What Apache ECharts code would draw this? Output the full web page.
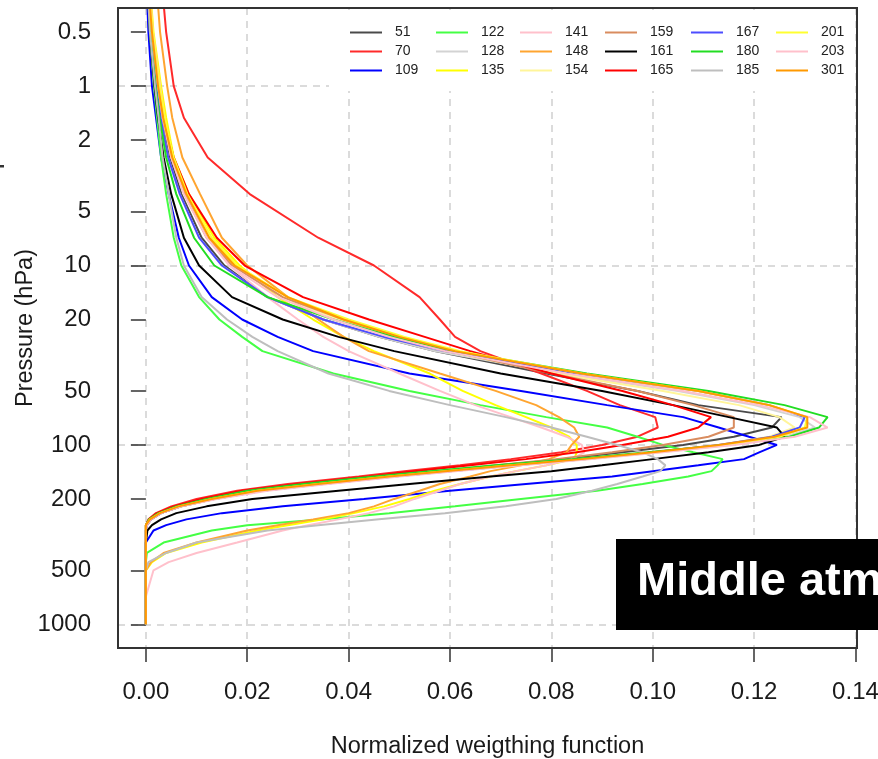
<!DOCTYPE html>
<html>
<head>
<meta charset="utf-8">
<script src="https://cdn.jsdelivr.net/npm/echarts@6/dist/echarts.min.js"></script>
<style>
html,body{margin:0;padding:0;background:#fff;}
#chart{width:878px;height:759px;}
</style>
</head>
<body>
<div id="chart"></div>
<script>
// Pressure levels (hPa) shared by all channels
var pressure = [0.3, 0.5, 1, 1.5, 2.5, 4, 7, 10, 15, 20, 25, 30, 40, 50, 60, 70, 80, 90, 100, 110, 120, 130, 140, 150, 165, 180, 200, 220, 240, 260, 280, 300, 350, 400, 450, 500, 700, 1000];

// Normalized weighting function per channel (values at the pressure levels above)
var w51  = [0.0006, 0.0012, 0.0023, 0.0032, 0.0047, 0.007, 0.011, 0.0155, 0.024, 0.035, 0.046, 0.057, 0.079, 0.097, 0.109, 0.1254, 0.1235, 0.116, 0.106, 0.094, 0.082, 0.070, 0.058, 0.048, 0.034, 0.023, 0.0135, 0.007, 0.003, 0.001, 0.0002, 0, 0, 0, 0, 0, 0, 0];
var w70  = [0.0033, 0.004, 0.0055, 0.0075, 0.0122, 0.0205, 0.034, 0.045, 0.054, 0.058, 0.061, 0.066, 0.078, 0.087, 0.0935, 0.1005, 0.101, 0.097, 0.090, 0.082, 0.072, 0.062, 0.051, 0.042, 0.028, 0.018, 0.010, 0.005, 0.002, 0.0005, 0, 0, 0, 0, 0, 0, 0, 0];
var w109 = [0.0002, 0.0005, 0.0012, 0.002, 0.003, 0.0045, 0.0065, 0.0085, 0.013, 0.019, 0.026, 0.033, 0.052, 0.074, 0.091, 0.106, 0.113, 0.119, 0.1245, 0.121, 0.118, 0.109, 0.100, 0.092, 0.075, 0.060, 0.043, 0.027, 0.015, 0.008, 0.004, 0.0015, 0, 0, 0, 0, 0, 0];
var w122 = [0.0004, 0.0008, 0.0016, 0.0022, 0.003, 0.004, 0.0055, 0.007, 0.0105, 0.0145, 0.019, 0.023, 0.037, 0.052, 0.066, 0.079, 0.091, 0.097, 0.102, 0.108, 0.1138, 0.1128, 0.1116, 0.107, 0.098, 0.089, 0.074, 0.061, 0.048, 0.035, 0.020, 0.013, 0.0035, 0.0002, 0, 0, 0, 0];
var w128 = [0.0005, 0.001, 0.002, 0.0029, 0.0044, 0.0067, 0.0105, 0.015, 0.024, 0.035, 0.046, 0.057, 0.082, 0.105, 0.120, 0.129, 0.132, 0.126, 0.115, 0.101, 0.087, 0.073, 0.060, 0.049, 0.035, 0.023, 0.0135, 0.007, 0.003, 0.001, 0.0002, 0, 0, 0, 0, 0, 0, 0];
var w135 = [0.0009, 0.0015, 0.003, 0.004, 0.0055, 0.0085, 0.0135, 0.0185, 0.026, 0.033, 0.039, 0.045, 0.056, 0.0625, 0.069, 0.075, 0.080, 0.0835, 0.085, 0.085, 0.0845, 0.079, 0.073, 0.068, 0.062, 0.057, 0.052, 0.047, 0.041, 0.035, 0.028, 0.022, 0.011, 0.004, 0.0012, 0, 0, 0];
var w141 = [0.0008, 0.0014, 0.0028, 0.0037, 0.005, 0.0077, 0.012, 0.0165, 0.024, 0.030, 0.035, 0.040, 0.050, 0.058, 0.065, 0.072, 0.078, 0.083, 0.086, 0.0865, 0.084, 0.079, 0.073, 0.068, 0.062, 0.058, 0.053, 0.049, 0.044, 0.038, 0.032, 0.027, 0.018, 0.010, 0.0045, 0.0015, 0, 0];
var w148 = [0.0022, 0.0028, 0.0042, 0.0052, 0.0072, 0.0107, 0.015, 0.020, 0.028, 0.034, 0.039, 0.044, 0.058, 0.069, 0.077, 0.0815, 0.0845, 0.0855, 0.084, 0.083, 0.0795, 0.074, 0.068, 0.064, 0.058, 0.054, 0.049, 0.045, 0.040, 0.033, 0.026, 0.020, 0.010, 0.0035, 0.001, 0, 0, 0];
var w154 = [0.0007, 0.0013, 0.0026, 0.0036, 0.0053, 0.008, 0.0125, 0.0175, 0.027, 0.038, 0.049, 0.059, 0.081, 0.102, 0.117, 0.125, 0.128, 0.123, 0.113, 0.100, 0.087, 0.073, 0.060, 0.049, 0.035, 0.023, 0.0135, 0.007, 0.003, 0.001, 0.0002, 0, 0, 0, 0, 0, 0, 0];
var w159 = [0.0006, 0.0012, 0.0024, 0.0034, 0.005, 0.0076, 0.012, 0.017, 0.027, 0.039, 0.050, 0.060, 0.080, 0.097, 0.108, 0.116, 0.116, 0.111, 0.102, 0.092, 0.081, 0.069, 0.058, 0.048, 0.034, 0.023, 0.0135, 0.007, 0.003, 0.001, 0.0002, 0, 0, 0, 0, 0, 0, 0];
var w161 = [0.0004, 0.0008, 0.0017, 0.0024, 0.0035, 0.005, 0.0075, 0.0105, 0.017, 0.027, 0.038, 0.049, 0.070, 0.090, 0.104, 0.115, 0.1245, 0.126, 0.121, 0.111, 0.100, 0.090, 0.080, 0.068, 0.052, 0.038, 0.021, 0.012, 0.006, 0.003, 0.0012, 0.0003, 0, 0, 0, 0, 0, 0];
var w165 = [0.0006, 0.0012, 0.0025, 0.0035, 0.0055, 0.0085, 0.014, 0.0195, 0.031, 0.044, 0.055, 0.064, 0.080, 0.094, 0.104, 0.1115, 0.109, 0.103, 0.094, 0.085, 0.075, 0.064, 0.053, 0.044, 0.030, 0.019, 0.011, 0.0055, 0.0022, 0.0006, 0, 0, 0, 0, 0, 0, 0, 0];
var w167 = [0.0005, 0.001, 0.002, 0.0029, 0.0044, 0.0067, 0.0105, 0.015, 0.024, 0.035, 0.047, 0.059, 0.085, 0.109, 0.123, 0.130, 0.129, 0.1235, 0.113, 0.100, 0.087, 0.073, 0.060, 0.049, 0.035, 0.023, 0.013, 0.0068, 0.003, 0.001, 0.0002, 0, 0, 0, 0, 0, 0, 0];
var w180 = [0.0004, 0.0009, 0.0019, 0.0027, 0.004, 0.006, 0.0095, 0.0135, 0.024, 0.037, 0.049, 0.061, 0.087, 0.111, 0.126, 0.1345, 0.1328, 0.127, 0.114, 0.099, 0.084, 0.069, 0.056, 0.045, 0.031, 0.020, 0.012, 0.006, 0.0025, 0.0006, 0, 0, 0, 0, 0, 0, 0, 0];
var w185 = [0.0004, 0.0008, 0.0018, 0.0025, 0.0033, 0.0045, 0.006, 0.0075, 0.011, 0.016, 0.021, 0.026, 0.036, 0.048, 0.060, 0.071, 0.080, 0.087, 0.093, 0.098, 0.101, 0.1025, 0.1015, 0.098, 0.093, 0.088, 0.081, 0.071, 0.059, 0.046, 0.034, 0.024, 0.010, 0.004, 0.0005, 0, 0, 0];
var w201 = [0.0007, 0.0014, 0.0027, 0.0037, 0.0055, 0.0082, 0.013, 0.018, 0.028, 0.040, 0.051, 0.062, 0.086, 0.109, 0.123, 0.1305, 0.130, 0.125, 0.115, 0.101, 0.087, 0.072, 0.059, 0.048, 0.034, 0.022, 0.013, 0.0065, 0.0028, 0.0008, 0, 0, 0, 0, 0, 0, 0, 0];
var w203 = [0.0006, 0.0012, 0.0024, 0.0033, 0.005, 0.0075, 0.012, 0.0165, 0.026, 0.037, 0.048, 0.059, 0.083, 0.106, 0.121, 0.131, 0.1345, 0.128, 0.116, 0.102, 0.088, 0.074, 0.061, 0.050, 0.036, 0.024, 0.014, 0.007, 0.003, 0.001, 0.0002, 0, 0, 0, 0, 0, 0, 0];
var w301 = [0.0006, 0.0012, 0.0024, 0.0034, 0.0052, 0.008, 0.0125, 0.0175, 0.028, 0.039, 0.050, 0.061, 0.086, 0.109, 0.123, 0.1305, 0.1305, 0.124, 0.113, 0.100, 0.086, 0.072, 0.059, 0.048, 0.034, 0.022, 0.013, 0.0065, 0.0028, 0.0008, 0, 0, 0, 0, 0, 0, 0, 0];

var channels = ['51', '70', '109', '122', '128', '135', '141', '148', '154', '159', '161', '165', '167', '180', '185', '201', '203', '301'];
var channelValues = [w51, w70, w109, w122, w128, w135, w141, w148, w154, w159, w161, w165, w167, w180, w185, w201, w203, w301];
var channelColors = ['#4a4a4a', '#ff2a2a', '#0000ff', '#44ff44', '#d3d3d3', '#ffff00', '#ffc0cb', '#ffa530', '#fff59a', '#d98c5f', '#000000', '#ff0000', '#4d4dff', '#22dd22', '#bebebe', '#ffff30', '#ffc0cb', '#ff9900'];

// Axis tick labels
var xTicks = [0, 0.02, 0.04, 0.06, 0.08, 0.10, 0.12, 0.14];
var yTicks = [0.5, 1, 2, 5, 10, 20, 50, 100, 200, 500, 1000];
var yGridLines = [1, 10, 100, 1000];

var legendColumns = [
  ['51', '70', '109'],
  ['122', '128', '135'],
  ['141', '148', '154'],
  ['159', '161', '165'],
  ['167', '180', '185'],
  ['201', '203', '301']
];
var legendLeft = [350, 436, 520, 605, 691, 776];

var FONT = '"Liberation Sans", Arial, Helvetica, sans-serif';

var series = channels.map(function (name, k) {
  var vals = channelValues[k];
  return {
    name: name,
    type: 'line',
    symbol: 'none',
    clip: true,
    xAxisIndex: 0,
    yAxisIndex: 0,
    color: channelColors[k],
    lineStyle: { width: 2, color: channelColors[k] },
    data: pressure.map(function (p, i) { return [vals[i], p]; }),
    z: 2
  };
});

var legends = legendColumns.map(function (col, c) {
  return {
    orient: 'vertical',
    left: legendLeft[c],
    top: 23,
    padding: 0,
    itemGap: 0,
    itemWidth: 32,
    itemHeight: 2,
    icon: 'rect',
    selectedMode: false,
    data: col,
    textStyle: { fontSize: 14, color: '#222', fontFamily: FONT, lineHeight: 19, padding: [0, 0, 0, 8] }
  };
});

var gridLine = { show: true, lineStyle: { color: '#cfcfcf', width: 1.5, type: [7, 6] } };

var chart = echarts.init(document.getElementById('chart'), null, { renderer: 'canvas' });
chart.setOption({
  animation: false,
  backgroundColor: '#ffffff',
  textStyle: { fontFamily: FONT },
  grid: { left: 118, right: 21, top: 8, bottom: 111, show: false, containLabel: false, outerBoundsMode: 'none' },
  legend: legends,
  xAxis: {
    type: 'value',
    min: -0.0055,
    max: 0.1403,
    name: 'Normalized weigthing function',
    nameLocation: 'middle',
    nameGap: 99,
    nameMoveOverlap: false,
    nameTextStyle: { fontSize: 23.5, color: '#1a1a1a', fontFamily: FONT, verticalAlign: 'middle' },
    axisLine: { show: false },
    axisTick: { show: true, inside: false, length: 14, customValues: xTicks, lineStyle: { color: '#333', width: 1.5 } },
    axisLabel: { customValues: xTicks, margin: 32, fontSize: 24, color: '#1a1a1a', fontFamily: FONT, formatter: function (v) { return v.toFixed(2); } },
    splitLine: gridLine
  },
  yAxis: [{
    type: 'log',
    logBase: 10,
    inverse: true,
    min: 0.367,
    max: 1355,
    name: 'Pressure (hPa)',
    nameLocation: 'middle',
    nameGap: 92,
    nameMoveOverlap: false,
    nameRotate: 90,
    nameTextStyle: { fontSize: 23.5, color: '#1a1a1a', fontFamily: FONT, verticalAlign: 'middle' },
    axisLine: { show: false },
    axisTick: { show: true, inside: false, length: 15, customValues: yTicks, lineStyle: { color: '#333', width: 1.5 } },
    axisLabel: { customValues: yTicks, margin: 27, fontSize: 24, color: '#1a1a1a', fontFamily: FONT, padding: [4, 0, 0, 0], formatter: function (v) { return String(+Number(v).toPrecision(3)); } },
    splitLine: { show: false }
  }, {
    type: 'log',
    logBase: 10,
    inverse: true,
    min: 0.367,
    max: 1355,
    position: 'left',
    axisLine: { show: false },
    axisTick: { show: false, customValues: yGridLines },
    axisLabel: { show: false, customValues: yGridLines },
    splitLine: gridLine
  }],
  graphic: [
    { type: 'rect', z: 1, shape: { x: 329, y: 10, width: 526, height: 81 }, style: { fill: '#ffffff' } },
    { type: 'rect', z: 3, shape: { x: 118, y: 8, width: 739, height: 640 }, style: { fill: 'none', stroke: '#333333', lineWidth: 2 } },
    { type: 'rect', z: 20, shape: { x: 616, y: 539, width: 280, height: 91 }, style: { fill: '#000000' } },
    { type: 'text', z: 21, x: 637, y: 582, style: { text: 'Middle atm', fill: '#ffffff', fontSize: 47, fontWeight: 'bold', fontFamily: FONT, verticalAlign: 'middle' } },
    { type: 'rect', z: 1, shape: { x: 0, y: 165, width: 4, height: 2.5 }, style: { fill: '#333333' } }
  ],
  series: series
});
</script>
</body>
</html>
